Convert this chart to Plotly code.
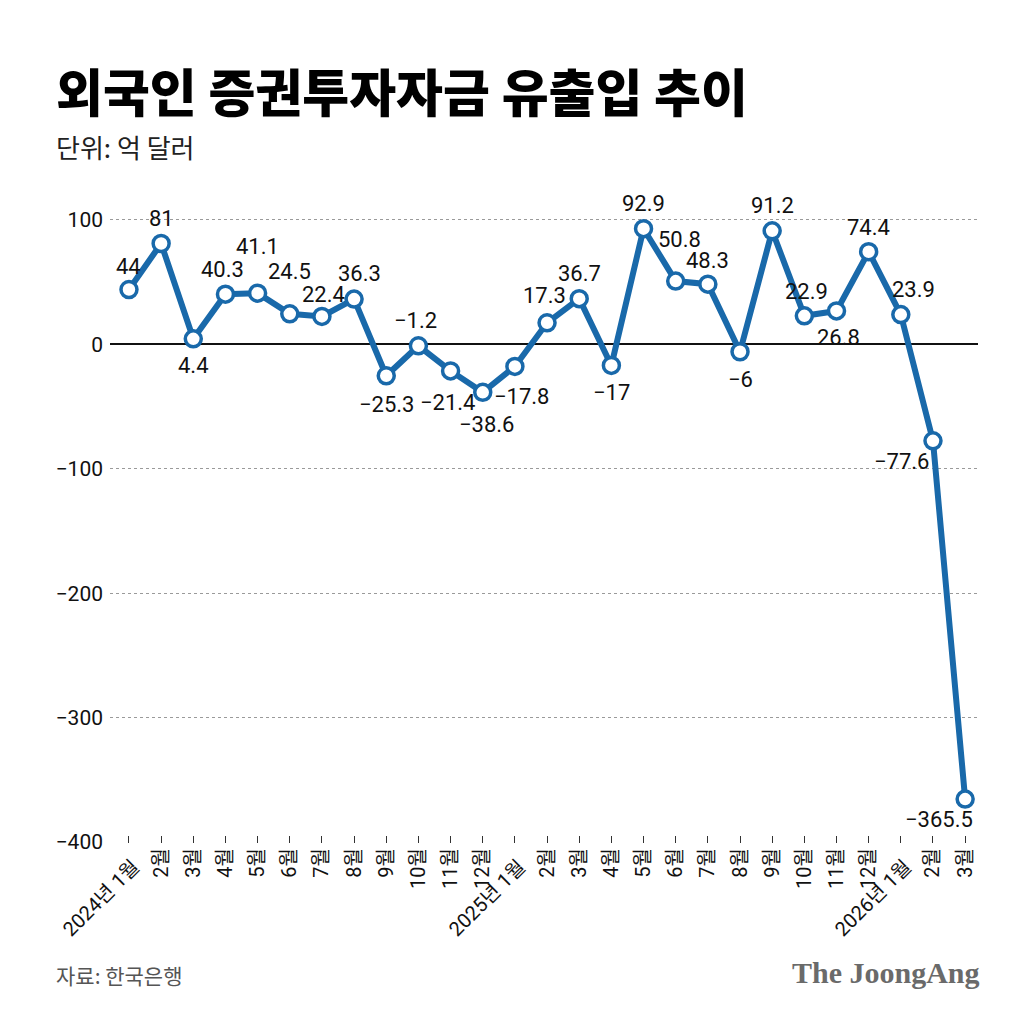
import plotly.graph_objects as go

# 외국인 증권투자자금 유출입 (억 달러), 2024.1 ~ 2026.3
months = ["2024년 1월", "2월", "3월", "4월", "5월", "6월", "7월", "8월", "9월", "10월", "11월", "12월",
          "2025년 1월", "2월", "3월", "4월", "5월", "6월", "7월", "8월", "9월", "10월", "11월", "12월",
          "2026년 1월", "2월", "3월"]
flows = [44, 81, 4.4, 40.3, 41.1, 24.5, 22.4, 36.3, -25.3, -1.2, -21.4, -38.6,
         -17.8, 17.3, 36.7, -17, 92.9, 50.8, 48.3, -6, 91.2, 22.9, 26.8, 74.4,
         23.9, -77.6, -365.5]
y_ticks = [100, 0, -100, -200, -300, -400]

# label offsets from each point (px)
label_dx = [0, 0, 0, -3, 0, 0, 2, 5, 0, -3, -3, 4,
            7, -3, 0, 0, 0, 4, 0, 0, 0, 2, 2, 0,
            13, -31, -26]
label_dy = [-23, -25, 27, -25, -47, -42, -22, -26, 29, -25, 32, 32,
            30, -27, -25, 27, -25, -42, -24, 28, -25, -24, 27, -24,
            -25, 21, 20]

BLUE = "#1969aa"
x = list(range(len(months)))


def fmt(v):
    return f"{v:g}".replace("-", "\u2212")


fig = go.Figure()
fig.add_trace(go.Scatter(
    x=x, y=flows, mode="lines+markers",
    line=dict(color=BLUE, width=6),
    marker=dict(size=16, color="white", line=dict(color=BLUE, width=3.5)),
    cliponaxis=False, hoverinfo="skip"))

for i, v in enumerate(flows):
    fig.add_annotation(
        x=i, y=v, text=fmt(v), showarrow=False,
        xshift=label_dx[i], yshift=-label_dy[i],
        font=dict(family="Roboto, 'Noto Sans', sans-serif", size=22, color="#111"))

# month tick labels: year-starting ones go diagonal as annotations
tick_text = ["" if "년" in m else m for m in months]
for i, m in enumerate(months):
    if "년" in m:
        fig.add_annotation(
            x=i, y=0, xref="x", yref="paper", text=m, showarrow=False,
            textangle=-45, xanchor="right", yanchor="top",
            xshift=18, yshift=-9,
            font=dict(family="Roboto, 'Noto Sans CJK KR', sans-serif", size=20, color="#111"))

fig.update_xaxes(
    range=[-0.59, 26.4], tickvals=x, ticktext=tick_text, tickangle=-90,
    showgrid=False, zeroline=False, showline=False,
    ticks="inside", ticklen=7, tickwidth=1, tickcolor="#333",
    tickfont=dict(family="Roboto, 'Noto Sans CJK KR', sans-serif", size=20, color="#111"))
fig.update_yaxes(
    range=[-400.8, 124], tickvals=y_ticks,
    showgrid=True, gridcolor="#9a9a9a", griddash="dot", gridwidth=1,
    zeroline=True, zerolinecolor="#111", zerolinewidth=1.5,
    ticks="", ticklabelstandoff=6,
    tickfont=dict(family="Roboto, 'Noto Sans', sans-serif", size=21, color="#111"))

# header and footer, placed relative to the plot area
fig.add_annotation(
    x=-0.064, y=1.153, xref="paper", yref="paper", xanchor="left", yanchor="middle",
    text="외국인 증권투자자금 유출입 추이", showarrow=False,
    font=dict(family="'Noto Sans CJK KR', sans-serif", size=51, color="#000", weight=900))
fig.add_annotation(
    x=-0.064, y=1.066, xref="paper", yref="paper", xanchor="left", yanchor="middle",
    text="단위: 억 달러", showarrow=False,
    font=dict(family="'Noto Sans CJK KR', sans-serif", size=26, color="#222"))
fig.add_annotation(
    x=-0.064, y=-0.202, xref="paper", yref="paper", xanchor="left", yanchor="middle",
    text="자료: 한국은행", showarrow=False,
    font=dict(family="'Noto Sans CJK KR', sans-serif", size=21, color="#555"))
fig.add_annotation(
    x=1.005, y=-0.198, xref="paper", yref="paper", xanchor="right", yanchor="middle",
    text="<b>The JoongAng</b>", showarrow=False,
    font=dict(family="'Liberation Serif', serif", size=30, color="#6a6a6a"))

fig.update_layout(
    width=1033, height=1033,
    margin=dict(l=102, r=63, t=182, b=198),
    paper_bgcolor="white", plot_bgcolor="white",
    showlegend=False)

fig.write_html("out.html")
